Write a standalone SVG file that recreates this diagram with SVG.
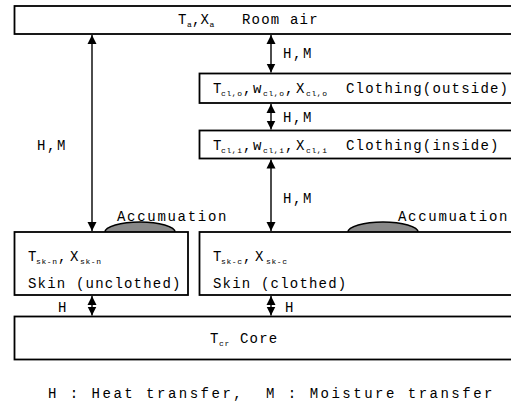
<svg xmlns="http://www.w3.org/2000/svg" width="511" height="403" viewBox="0 0 511 403">
<defs>
<style>
.box{fill:#fff;stroke:#000;stroke-width:1.8}
.bump{fill:#888;stroke:#000;stroke-width:1.5}
.t{font-family:"Liberation Mono",monospace;font-size:14px;fill:#000;letter-spacing:1.2px}
.s{font-size:8px;letter-spacing:0.6px}
.lbl{font-family:"Liberation Mono",monospace;font-size:14px;fill:#000;letter-spacing:1.6px}
.acc{font-family:"Liberation Mono",monospace;font-size:14px;fill:#000;letter-spacing:1.7px}
.leg{font-family:"Liberation Mono",monospace;font-size:14px;fill:#000;letter-spacing:2.5px;white-space:pre}
.c{stroke:#000;stroke-width:1.4;fill:none;marker-start:url(#ah);marker-end:url(#ah)}
</style>
<marker id="ah" viewBox="0 0 10 10" refX="10" refY="5" markerWidth="9" markerHeight="11" markerUnits="userSpaceOnUse" orient="auto-start-reverse">
<path d="M0,0 L10,5 L0,10 z" fill="#000"/>
</marker>
</defs>

<g id="room-air">
<rect class="box" x="14.5" y="6" width="510" height="28"/>
<text class="t" y="24" style="letter-spacing:0" xml:space="preserve"><tspan x="178">T</tspan><tspan class="s" x="187" dy="3" style="letter-spacing:0">a</tspan><tspan x="192" dy="-3">,</tspan><tspan x="200.5">X</tspan><tspan class="s" x="209.5" dy="3" style="letter-spacing:0">a</tspan><tspan x="242" dy="-3" style="letter-spacing:1.2px">Room air</tspan></text>
</g>

<g id="clothing-outside">
<rect class="box" x="199.5" y="73.5" width="320" height="29.5"/>
<text class="t" y="93" xml:space="preserve"><tspan x="213">T</tspan><tspan class="s" x="221" dy="3">cl,o</tspan><tspan x="243" dy="-3">,</tspan><tspan x="253">w</tspan><tspan class="s" x="263" dy="3">cl,o</tspan><tspan x="285" dy="-3">,</tspan><tspan x="296">X</tspan><tspan class="s" x="306" dy="3">cl,o</tspan><tspan x="346" dy="-3">Clothing(outside)</tspan></text>
</g>

<g id="clothing-inside">
<rect class="box" x="199.5" y="130.5" width="320" height="28"/>
<text class="t" y="149.5" xml:space="preserve"><tspan x="213">T</tspan><tspan class="s" x="221" dy="3">cl,i</tspan><tspan x="243" dy="-3">,</tspan><tspan x="253">w</tspan><tspan class="s" x="263" dy="3">cl,i</tspan><tspan x="285" dy="-3">,</tspan><tspan x="296">X</tspan><tspan class="s" x="306" dy="3">cl,i</tspan><tspan x="346" dy="-3">Clothing(inside)</tspan></text>
</g>

<g id="skin-unclothed">
<path class="bump" d="M105,232 A35,10 0 0 1 175,232"/>
<rect class="box" x="14.5" y="232" width="173.5" height="63"/>
<text class="t" y="261"><tspan x="28">T</tspan><tspan class="s" x="36" dy="3">sk-n</tspan><tspan x="58" dy="-3">,</tspan><tspan x="70">X</tspan><tspan class="s" x="80" dy="3">sk-n</tspan></text>
<text class="t" x="28" y="288">Skin (unclothed)</text>
<text class="acc" x="117" y="221">Accumuation</text>
</g>

<g id="skin-clothed">
<path class="bump" d="M348,232 A35,10 0 0 1 418,232"/>
<rect class="box" x="199.5" y="232" width="320" height="63"/>
<text class="t" y="261"><tspan x="213">T</tspan><tspan class="s" x="221" dy="3">sk-c</tspan><tspan x="243" dy="-3">,</tspan><tspan x="255">X</tspan><tspan class="s" x="266" dy="3">sk-c</tspan></text>
<text class="t" x="213" y="288">Skin (clothed)</text>
<text class="acc" x="398" y="221">Accumuation</text>
</g>

<g id="core">
<rect class="box" x="14.5" y="316.5" width="510" height="43"/>
<text class="t" y="343" xml:space="preserve"><tspan x="210">T</tspan><tspan class="s" x="219" dy="3">cr</tspan><tspan x="240" dy="-3">Core</tspan></text>
</g>

<g id="connectors">
<line class="c" x1="92" y1="35" x2="92" y2="231"/>
<line class="c" x1="271" y1="35" x2="271" y2="72.5"/>
<line class="c" x1="271" y1="104" x2="271" y2="129.5"/>
<line class="c" x1="271" y1="159.5" x2="271" y2="231"/>
<line class="c" x1="92" y1="296" x2="92" y2="315.5"/>
<line class="c" x1="271" y1="296" x2="271" y2="315.5"/>
<text class="lbl" x="37" y="150">H,M</text>
<text class="lbl" x="283" y="58">H,M</text>
<text class="lbl" x="283" y="122">H,M</text>
<text class="lbl" x="283" y="203">H,M</text>
<text class="lbl" x="58" y="312">H</text>
<text class="lbl" x="285" y="312">H</text>
</g>

<g id="legend">
<text class="leg" x="48" y="398" xml:space="preserve">H : Heat transfer,  M : Moisture transfer</text>
</g>
</svg>
